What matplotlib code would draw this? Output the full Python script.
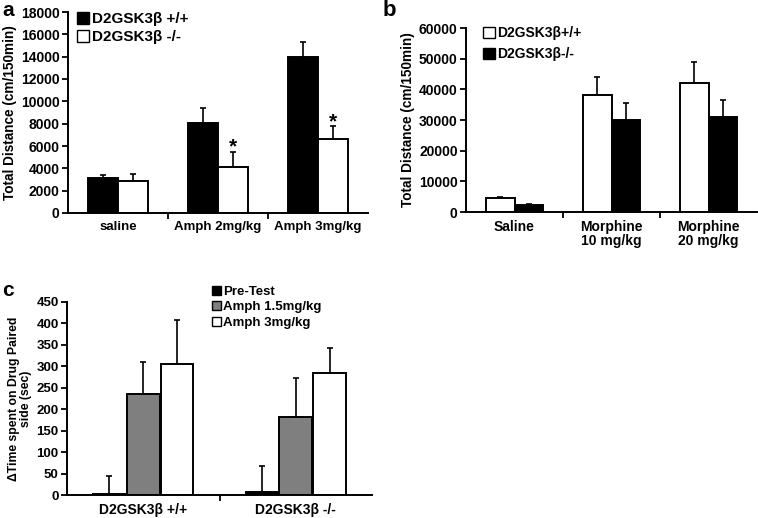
import matplotlib
matplotlib.use("Agg")
import matplotlib.pyplot as plt
import numpy as np
from matplotlib.patches import Patch

plt.rcParams['font.family'] = ['Liberation Sans', 'DejaVu Sans']
plt.rcParams['font.weight'] = 'bold'

# Panel a
a_cats = ["saline", "Amph 2mg/kg", "Amph 3mg/kg"]
a_wt = [3100, 8100, 14000]
a_wt_err = [300, 1300, 1300]
a_ko = [2900, 4100, 6600]
a_ko_err = [600, 1400, 1200]
a_labels = ["D2GSK3β +/+", "D2GSK3β -/-"]
a_star = [False, True, True]

# Panel b
b_cats = ["Saline", "Morphine\n10 mg/kg", "Morphine\n20 mg/kg"]
b_wt = [4500, 38000, 42000]
b_wt_err = [500, 6000, 7000]
b_ko = [2200, 30000, 31000]
b_ko_err = [500, 5500, 5500]
b_labels = ["D2GSK3β+/+", "D2GSK3β-/-"]

# Panel c
c_cats = ["D2GSK3β +/+", "D2GSK3β -/-"]
c_pre = [2, 8]
c_pre_err = [43, 60]
c_a15 = [236, 181]
c_a15_err = [74, 92]
c_a3 = [306, 285]
c_a3_err = [102, 57]
c_labels = ["Pre-Test", "Amph 1.5mg/kg", "Amph 3mg/kg"]

W, H = 758, 518
fig = plt.figure(figsize=(W / 100, H / 100), dpi=100)

def ax_at(l, r, t, b):
    return fig.add_axes([l / W, 1 - b / H, (r - l) / W, (b - t) / H])

def style(ax):
    for s in ['top', 'right']:
        ax.spines[s].set_visible(False)
    for s in ['left', 'bottom']:
        ax.spines[s].set_linewidth(1.4)
    ax.tick_params(axis='y', direction='out', length=4, width=1.3, pad=2)
    ax.tick_params(axis='x', which='major', length=0, pad=6)
    ax.tick_params(axis='x', which='minor', direction='out', length=4, width=1.3)

def bars(ax, x, vals, errs, color, w):
    ax.bar(x, vals, w, color=color, edgecolor='black', linewidth=1.4, zorder=2)
    ax.errorbar(x, vals, yerr=[np.zeros(len(vals)), errs], fmt='none',
                ecolor='black', elinewidth=1.2, capsize=2.5, capthick=1.2, zorder=1)

# ---- a
ax = ax_at(68, 368, 12, 213)
x = np.arange(len(a_cats))
w = 0.3
bars(ax, x - w / 2, a_wt, a_wt_err, 'black', w)
bars(ax, x + w / 2, a_ko, a_ko_err, 'white', w)
ax.set_xlim(-0.5, len(a_cats) - 0.5)
ax.set_ylim(0, 18000)
ax.set_yticks(np.arange(0, 18001, 2000))
ax.set_xticks(x)
ax.set_xticklabels(a_cats, fontsize=9.5, fontweight='bold')
ax.set_xticks(np.arange(0.5, len(a_cats) - 1, 1), minor=True)
for t in ax.get_yticklabels():
    t.set_fontsize(10); t.set_fontweight('bold')
ax.set_ylabel("Total Distance (cm/150min)", fontsize=9.8, fontweight='bold', labelpad=3)
style(ax)
for i, s in enumerate(a_star):
    if s:
        ax.text(x[i] + w / 2, a_ko[i] + a_ko_err[i] - 450, "*", ha='center', va='bottom',
                fontsize=15, fontweight='bold')
h = [Patch(facecolor='black', edgecolor='black'), Patch(facecolor='white', edgecolor='black')]
ax.legend(h, a_labels, loc='upper left', bbox_to_anchor=(0.03, 1.0), frameon=False,
          prop={'size': 11, 'weight': 'bold'}, handlelength=0.8, handleheight=0.8,
          handletextpad=0.15, labelspacing=0.25, borderaxespad=0, borderpad=0)
fig.text(2 / W, 1 - 1 / H, "a", fontsize=15, fontweight='bold', va='top', ha='left')

# ---- b
ax = ax_at(466, 757, 28, 212)
x = np.arange(len(b_cats))
w = 0.29
bars(ax, x - w / 2, b_wt, b_wt_err, 'white', w)
bars(ax, x + w / 2, b_ko, b_ko_err, 'black', w)
ax.set_xlim(-0.5, len(b_cats) - 0.5)
ax.set_ylim(0, 60000)
ax.set_yticks(np.arange(0, 60001, 10000))
ax.set_xticks(x)
ax.set_xticklabels(b_cats, fontsize=10, fontweight='bold', linespacing=1.0)
ax.set_xticks(np.arange(0.5, len(b_cats) - 1, 1), minor=True)
for t in ax.get_yticklabels():
    t.set_fontsize(10); t.set_fontweight('bold')
ax.set_ylabel("Total Distance (cm/150min)", fontsize=9.8, fontweight='bold', labelpad=3)
style(ax)
h = [Patch(facecolor='white', edgecolor='black'), Patch(facecolor='black', edgecolor='black')]
ax.legend(h, b_labels, loc='upper left', bbox_to_anchor=(0.06, 1.01), frameon=False,
          prop={'size': 10, 'weight': 'bold'}, handlelength=0.8, handleheight=0.8,
          handletextpad=0.15, labelspacing=0.5, borderaxespad=0, borderpad=0)
fig.text(383 / W, 1 - 0 / H, "b", fontsize=16, fontweight='bold', va='top', ha='left')

# ---- c
ax = ax_at(67, 372, 302, 495)
x = np.arange(len(c_cats))
w = 0.215
off = 0.222
bars(ax, x - off, c_pre, c_pre_err, 'black', w)
bars(ax, x, c_a15, c_a15_err, '#7f7f7f', w)
bars(ax, x + off, c_a3, c_a3_err, 'white', w)
ax.set_xlim(-0.5, len(c_cats) - 0.5)
ax.set_ylim(0, 450)
ax.set_yticks(np.arange(0, 451, 50))
ax.set_xticks(x)
ax.set_xticklabels(c_cats, fontsize=10, fontweight='bold')
ax.set_xticks(np.arange(0.5, len(c_cats) - 1, 1), minor=True)
for t in ax.get_yticklabels():
    t.set_fontsize(9.5); t.set_fontweight('bold')
ax.set_ylabel("ΔTime spent on Drug Paired\nside (sec)", fontsize=8.8, fontweight='bold',
              labelpad=3, linespacing=1.0)
style(ax)
h = [Patch(facecolor='black', edgecolor='black'), Patch(facecolor='#7f7f7f', edgecolor='black'),
     Patch(facecolor='white', edgecolor='black')]
ax.legend(h, c_labels, loc='upper left', bbox_to_anchor=(0.475, 1.085), frameon=False,
          prop={'size': 9.5, 'weight': 'bold'}, handlelength=0.7, handleheight=0.7,
          handletextpad=0.15, labelspacing=0.25, borderaxespad=0, borderpad=0)
fig.text(2 / W, 1 - 281 / H, "c", fontsize=15, fontweight='bold', va='top', ha='left')

fig.savefig("out.png", dpi=100)
